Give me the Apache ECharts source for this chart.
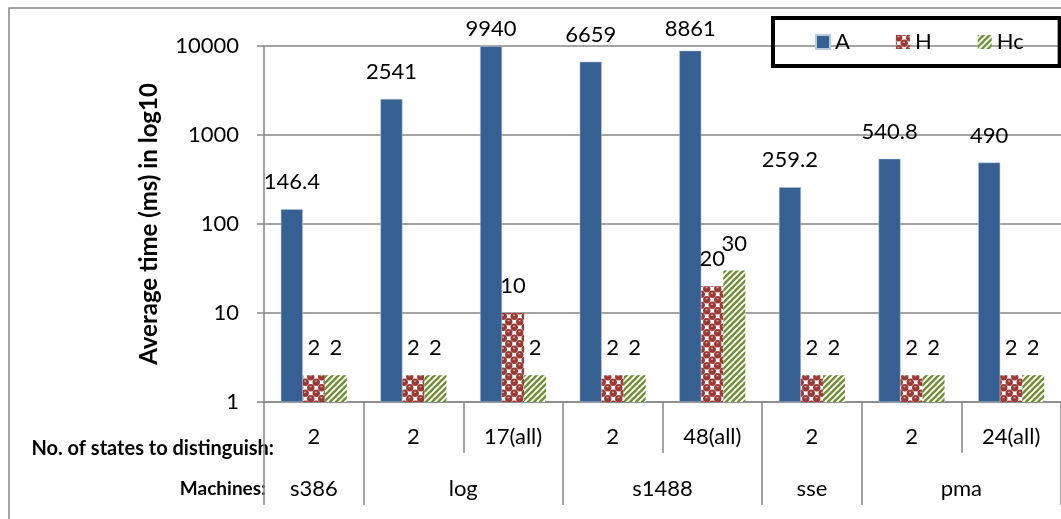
<!DOCTYPE html>
<html>
<head>
<meta charset="utf-8">
<script src="https://cdn.jsdelivr.net/npm/echarts@6/dist/echarts.min.js"></script>
<style>
  html, body { margin: 0; padding: 0; background: #fff; }
  #chart { width: 1061px; height: 519px; }
</style>
</head>
<body>
<div id="chart"></div>
<script>
// Per-run categories: number of states to distinguish, grouped by machine
const states = ['2', '2', '17(all)', '2', '48(all)', '2', '2', '24(all)'];
const machines = ['s386', 'log', 's1488', 'sse', 'pma'];
const machineSpans = [1, 2, 2, 1, 2];

// Average time (ms) per method
const seriesNames = ['A', 'H', 'Hc'];
const valuesA = [146.4, 2541, 9940, 6659, 8861, 259.2, 540.8, 490];
const valuesH = [2, 2, 10, 2, 20, 2, 2, 2];
const valuesHc = [2, 2, 2, 2, 30, 2, 2, 2];

const yMin = 1, yMax = 10000;

const FONT = 'Lato, "Open Sans", sans-serif';
const GRAY = '#868686';

// machine group boundaries and centres on a 0..n scale
const bounds = [0];
machineSpans.forEach(s => bounds.push(bounds[bounds.length - 1] + s));
const centres = machines.map((m, i) => (bounds[i] + bounds[i + 1]) / 2);

// fill patterns
function spherePattern() {
  const s = 11, c = document.createElement('canvas');
  c.width = s; c.height = s;
  const g = c.getContext('2d');
  g.fillStyle = '#ffffff'; g.fillRect(0, 0, s, s);
  g.fillStyle = '#9a3a37';
  const pts = [[2.75, 2.75], [8.25, 8.25]];
  for (const [px, py] of pts) {
    for (const dx of [-s, 0, s]) for (const dy of [-s, 0, s]) {
      g.beginPath(); g.arc(px + dx, py + dy, 3.7, 0, Math.PI * 2); g.fill();
    }
  }
  g.fillStyle = 'rgba(255,255,255,0.7)';
  g.fillRect(1.5, 1.2, 2, 1); g.fillRect(7, 6.7, 2, 1);
  return c;
}
function stripePattern() {
  const s = 6, c = document.createElement('canvas');
  c.width = s; c.height = s;
  const g = c.getContext('2d');
  g.fillStyle = '#ffffff'; g.fillRect(0, 0, s, s);
  g.strokeStyle = '#6f8e34'; g.lineWidth = 2.4;
  for (let k = -1; k <= 1; k++) {
    g.beginPath(); g.moveTo(k * s - 1, s + 1); g.lineTo(k * s + s + 1, -1); g.stroke();
  }
  return c;
}

const colorA = '#376092';
const colorH = { image: spherePattern(), repeat: 'repeat' };
const colorHc = { image: stripePattern(), repeat: 'repeat' };

// labels pushed closer to the bar where the plot top leaves little room
const labelDistance = { 2: 6, 4: 11 };

const labelStyle = { show: true, position: 'top', distance: 16, color: '#000',
  fontFamily: FONT, fontSize: 22, lineHeight: 22 };

function barData(vals, nudge) {
  return vals.map((v, i) => (nudge && nudge[i] != null)
    ? { value: v, label: { distance: nudge[i] } } : v);
}

const chart = echarts.init(document.getElementById('chart'), null, { renderer: 'canvas' });

chart.setOption({
  animation: false,
  backgroundColor: '#fff',
  textStyle: { fontFamily: FONT },
  grid: { left: 264, top: 46, width: 800, height: 356, containLabel: false },
  legend: {
    data: seriesNames,
    left: 773, top: 18,
    padding: [13, 36, 13, 42],
    itemGap: 46, itemWidth: 14, itemHeight: 14,
    borderColor: '#000', borderWidth: 4,
    textStyle: { fontFamily: FONT, fontSize: 22, color: '#000' },
    icon: 'rect'
  },
  xAxis: [
    {
      type: 'category', data: states, position: 'bottom',
      axisLine: { lineStyle: { color: GRAY, width: 1.5 } },
      axisTick: { show: true, interval: 0, length: 51, lineStyle: { color: GRAY, width: 1.5 } },
      axisLabel: { interval: 0, margin: 24, color: '#000', fontSize: 22, fontFamily: FONT, lineHeight: 22 },
      splitLine: { show: false }
    },
    {
      type: 'value', min: 0, max: states.length, position: 'bottom',
      axisLine: { show: false },
      splitLine: { show: false },
      axisTick: { show: true, length: 103, customValues: bounds, lineStyle: { color: GRAY, width: 1.5 } },
      axisLabel: {
        customValues: centres, margin: 76, color: '#000', fontSize: 22, fontFamily: FONT, lineHeight: 22,
        formatter: v => { const i = centres.indexOf(v); return i >= 0 ? machines[i] : ''; }
      }
    }
  ],
  yAxis: {
    type: 'log', logBase: 10, min: yMin, max: yMax,
    name: 'Average time (ms) in log10', nameLocation: 'middle', nameGap: 103,
    nameTextStyle: { fontFamily: FONT, fontSize: 24, fontWeight: 'bold', color: '#000' },
    axisLine: { show: true, lineStyle: { color: GRAY, width: 1.5 } },
    axisTick: { show: true, length: 7, lineStyle: { color: GRAY, width: 1.5 } },
    axisLabel: { margin: 25, color: '#000', fontSize: 22, fontFamily: FONT, formatter: v => String(v) },
    splitLine: { show: true, lineStyle: { color: GRAY, width: 1.5 } },
    minorTick: { show: false }
  },
  series: [
    { name: seriesNames[0], type: 'bar', data: barData(valuesA, labelDistance), barWidth: 22, barGap: '0%',
      itemStyle: { color: colorA, borderColor: '#b9c9dd', borderWidth: 0.5 }, label: labelStyle },
    { name: seriesNames[1], type: 'bar', data: barData(valuesH), barWidth: 22, barGap: '0%',
      itemStyle: { color: colorH }, label: labelStyle },
    { name: seriesNames[2], type: 'bar', data: barData(valuesHc), barWidth: 22, barGap: '0%',
      itemStyle: { color: colorHc }, label: labelStyle }
  ],
  graphic: [
    { type: 'rect', silent: true, z: -1,
      shape: { x: 9, y: 8, width: 1200, height: 700 },
      style: { fill: null, stroke: GRAY, lineWidth: 1.5 } },
    { type: 'text', right: 1061 - 274, top: 439,
      style: { text: 'No. of states to distinguish:', fontFamily: FONT, fontSize: 20, fontWeight: 'bold', fill: '#000', textAlign: 'right' } },
    { type: 'text', right: 1061 - 266, top: 479,
      style: { text: 'Machines:', fontFamily: FONT, fontSize: 19, fontWeight: 'bold', fill: '#000', textAlign: 'right' } }
  ]
});
</script>
</body>
</html>
